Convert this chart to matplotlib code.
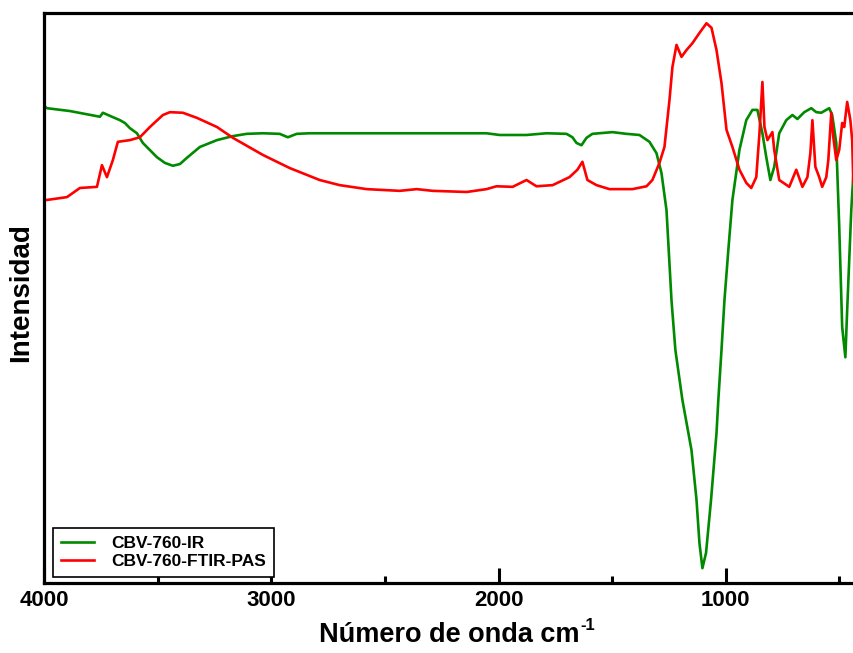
import matplotlib
matplotlib.use("Agg")
import matplotlib.pyplot as plt
from matplotlib.ticker import MultipleLocator

plt.rcParams['font.family'] = ['Liberation Sans', 'DejaVu Sans']
plt.rcParams['font.weight'] = 'bold'

# CBV-760-IR (green), wavenumber cm-1 / normalized intensity
ir_wn = [4000, 3987, 3886, 3754, 3741, 3701, 3666, 3644, 3622, 3591, 3565, 3503,
         3468, 3433, 3402, 3371, 3314, 3239, 3169, 3108, 3037, 2963, 2927, 2888,
         2831, 2743, 2435, 2053, 1995, 1877, 1789, 1701, 1675, 1657, 1635, 1613,
         1587, 1499, 1437, 1380, 1336, 1305, 1283, 1261, 1239, 1222, 1191, 1151,
         1129, 1116, 1103, 1087, 1065, 1041, 1033, 1019, 1006, 989, 971, 940, 910,
         883, 861, 839, 822, 804, 787, 765, 734, 707, 685, 655, 624, 602, 580,
         545, 532, 514, 501, 488, 474, 466, 448, 439]
ir_int = [0.837, 0.833, 0.828, 0.818, 0.825, 0.818, 0.812, 0.807, 0.798, 0.789,
          0.772, 0.747, 0.737, 0.732, 0.735, 0.746, 0.765, 0.777, 0.784, 0.788,
          0.789, 0.788, 0.782, 0.788, 0.789, 0.789, 0.789, 0.789, 0.786, 0.786,
          0.789, 0.788, 0.782, 0.772, 0.768, 0.781, 0.788, 0.791, 0.788, 0.786,
          0.774, 0.754, 0.719, 0.654, 0.496, 0.409, 0.321, 0.233, 0.146, 0.070,
          0.026, 0.053, 0.146, 0.263, 0.321, 0.409, 0.496, 0.584, 0.672, 0.760,
          0.812, 0.830, 0.830, 0.789, 0.747, 0.707, 0.730, 0.789, 0.812, 0.821,
          0.814, 0.826, 0.833, 0.826, 0.825, 0.833, 0.821, 0.772, 0.625, 0.449,
          0.396, 0.479, 0.654, 0.716]

# CBV-760-FTIR-PAS (red)
pas_wn = [4000, 3987, 3899, 3842, 3767, 3745, 3723, 3697, 3675, 3622, 3578, 3534,
          3477, 3446, 3389, 3327, 3239, 3169, 3037, 2919, 2787, 2699, 2580, 2435,
          2360, 2290, 2140, 2053, 2009, 1938, 1877, 1833, 1762, 1688, 1653, 1631,
          1609, 1569, 1512, 1411, 1349, 1323, 1292, 1270, 1248, 1235, 1217, 1195,
          1173, 1147, 1116, 1085, 1063, 1041, 1019, 997, 971, 940, 910, 888, 866,
          852, 839, 830, 817, 795, 787, 765, 721, 690, 663, 641, 628, 619, 606,
          589, 576, 558, 549, 536, 527, 514, 501, 488, 479, 466, 452, 444, 439]
pas_int = [0.672, 0.672, 0.677, 0.693, 0.695, 0.733, 0.712, 0.742, 0.774, 0.777,
           0.782, 0.800, 0.821, 0.826, 0.825, 0.816, 0.800, 0.781, 0.751, 0.728,
           0.707, 0.698, 0.691, 0.688, 0.691, 0.688, 0.686, 0.691, 0.696, 0.695,
           0.707, 0.696, 0.698, 0.712, 0.725, 0.739, 0.707, 0.698, 0.691, 0.691,
           0.696, 0.707, 0.737, 0.765, 0.847, 0.905, 0.944, 0.923, 0.935, 0.947,
           0.965, 0.982, 0.974, 0.935, 0.877, 0.795, 0.765, 0.725, 0.702, 0.693,
           0.712, 0.789, 0.879, 0.800, 0.777, 0.791, 0.760, 0.707, 0.695, 0.725,
           0.695, 0.712, 0.754, 0.812, 0.730, 0.712, 0.695, 0.712, 0.742, 0.825,
           0.782, 0.742, 0.760, 0.807, 0.800, 0.844, 0.812, 0.777, 0.702]

fig = plt.figure(figsize=(8.54, 6.53), dpi=100)
ax = fig.add_axes([44 / 854, 70 / 653, 810 / 854, 570 / 653])

ax.plot(ir_wn, ir_int, color='#008a00', lw=1.9, label='CBV-760-IR')
ax.plot(pas_wn, pas_int, color='#ff0000', lw=1.9, label='CBV-760-FTIR-PAS')

ax.set_xlim(4000, 436)
ax.set_ylim(0, 1)
ax.set_yticks([])
ax.xaxis.set_major_locator(MultipleLocator(1000))
ax.xaxis.set_minor_locator(MultipleLocator(500))
ax.tick_params(axis='x', which='major', direction='in', length=11, width=2.2,
               labelsize=16, pad=5, top=False)
ax.tick_params(axis='x', which='minor', direction='in', length=5, width=2.2, top=False)
for lab in ax.get_xticklabels():
    lab.set_fontweight('bold')

for s in ['left', 'bottom', 'top']:
    ax.spines[s].set_linewidth(2.3)
ax.spines['right'].set_visible(False)

ax.set_xlabel('Número de onda cm', fontsize=19.5, fontweight='bold', labelpad=8)
ax.set_ylabel('Intensidad', fontsize=20, fontweight='bold')
ax.yaxis.set_label_coords(-0.012, 0.51)

# superscript -1 after the x label
fig.canvas.draw()
bb = ax.xaxis.label.get_window_extent()
fig.text((bb.x1 + 1) / 854, 23 / 653, '-1', fontsize=12, fontweight='bold',
         ha='left', va='baseline')

leg = ax.legend(loc='lower left', bbox_to_anchor=(0.011, 0.0105), borderaxespad=0,
                fancybox=False, edgecolor='black', framealpha=1,
                prop={'size': 12.5, 'weight': 'bold'},
                handlelength=1.9, handletextpad=1.0, borderpad=0.45, labelspacing=0.2)
leg.get_frame().set_linewidth(1.2)

fig.savefig('out.png', dpi=100)
